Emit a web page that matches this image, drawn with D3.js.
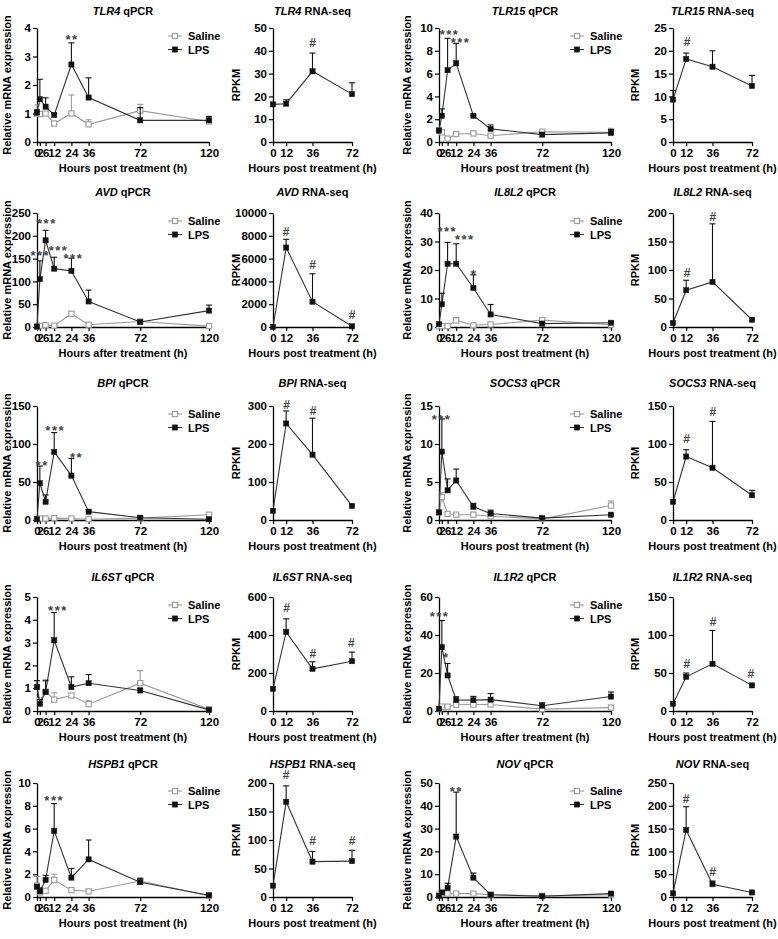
<!DOCTYPE html>
<html><head><meta charset="utf-8">
<script src="https://cdn.jsdelivr.net/npm/d3@7"></script>
<style>
body{margin:0;background:#fff;}
text{font-family:"Liberation Sans",Arial,sans-serif;font-weight:bold;}
</style></head><body>
<svg id="c" width="778" height="939"></svg>
<script>
// ---------------- DATA ----------------
const qpcrHours = [0, 2, 6, 12, 24, 36, 72, 120];
const seqHours = [0, 12, 36, 72];
const seriesNames = ["Saline", "LPS"];

// TLR4
const tlr4QpcrLps    = [1.03, 1.50, 1.24, 0.95, 2.72, 1.56, 0.76, 0.76];
const tlr4QpcrLpsErr = [0.10, 0.70, 0.31, 0.05, 0.76, 0.69, 0.45, 0.14];
const tlr4QpcrSal    = [1.00, 0.98, 1.00, 0.65, 1.00, 0.62, 1.10, 0.72];
const tlr4QpcrSalErr = [0.30, 0.02, 0.05, 0.05, 0.65, 0.16, 0.22, 0.13];
const tlr4QpcrSig    = [[24.5, 3.73, "**"]];
const tlr4Seq        = [16.5, 16.8, 31, 21];
const tlr4SeqErr     = [0.5, 1.7, 8, 5];
const tlr4SeqSig     = [[36, 43.4, "#"]];
// TLR15
const tlr15QpcrLps    = [1.0, 2.3, 6.3, 6.9, 2.3, 1.15, 0.65, 0.8];
const tlr15QpcrLpsErr = [0, 0.6, 2.8, 1.75, 0.05, 0.35, 0.15, 0.3];
const tlr15QpcrSal    = [1.05, 0.85, 0.3, 0.7, 0.75, 0.55, 0.9, 0.85];
const tlr15QpcrSalErr = [0.15, 0.15, 0.05, 0.15, 0.2, 0.05, 0.15, 0.35];
const tlr15QpcrSig    = [[7.4, 9.77, "***"], [15, 9.0, "***"]];
const tlr15Seq        = [9.3, 18.2, 16.5, 12.3];
const tlr15SeqErr     = [2, 1.3, 3.5, 2.3];
const tlr15SeqSig     = [[12.8, 22.1, "#"]];
// AVD
const avdQpcrLps    = [1, 105, 190, 128, 123, 56, 11, 36];
const avdQpcrLpsErr = [0, 40, 22, 25, 28, 25, 2, 12];
const avdQpcrSal    = [1, 3, 4, 3, 29, 5, 12, 2];
const avdQpcrSalErr = [0, 1, 1, 1, 5, 1, 1, 1];
const avdQpcrSig    = [[2.3, 165, "***"], [6.9, 235, "***"], [15, 175, "***"], [25.4, 159, "***"]];
const avdSeq        = [10, 6970, 2220, 60];
const avdSeqErr     = [0, 720, 2450, 30];
const avdSeqSig     = [[12, 8330, "#"], [36, 5450, "#"], [72, 1070, "#"]];
// IL8L2
const il8l2QpcrLps    = [1, 7.95, 22.2, 22.2, 13.7, 4.4, 1.2, 1.5];
const il8l2QpcrLpsErr = [0.2, 3.9, 7.5, 7.0, 4.6, 3.5, 0.3, 0.3];
const il8l2QpcrSal    = [0.3, 0.3, 0.3, 2.3, 0.6, 0.9, 2.4, 0.8];
const il8l2QpcrSalErr = [0.1, 0.1, 0.1, 1.0, 0.2, 0.3, 0.9, 0.2];
const il8l2QpcrSig    = [[5.8, 34.9, "***"], [18, 31.8, "***"], [24.5, 19.6, "*"]];
const il8l2Seq        = [7, 64.5, 79, 12.7];
const il8l2SeqErr     = [3, 17.5, 102, 2];
const il8l2SeqSig     = [[12.9, 96, "#"], [36.2, 193, "#"]];
// BPI
const bpiQpcrLps    = [1, 48.4, 24, 89.5, 58.4, 11, 3, 1];
const bpiQpcrLpsErr = [0, 22.6, 9, 25.5, 22.6, 2, 1, 0.5];
const bpiQpcrSal    = [1, 2, 2, 2.5, 2, 1, 2.5, 7];
const bpiQpcrSalErr = [0.5, 0.5, 0.5, 0.5, 0.5, 0.3, 0.5, 1];
const bpiQpcrSig    = [[3.6, 77, "**"], [12.7, 122, "***"], [27.6, 86.5, "**"]];
const bpiSeq        = [24, 254, 172, 37];
const bpiSeqErr     = [0, 33, 96, 3];
const bpiSeqSig     = [[12.3, 304, "#"], [36.5, 287, "#"]];
// SOCS3
const socs3QpcrLps    = [1.0, 9.0, 3.9, 5.2, 1.74, 0.85, 0.25, 0.7];
const socs3QpcrLpsErr = [0, 4.3, 1.5, 1.5, 0.45, 0.45, 0.05, 0.05];
const socs3QpcrSal    = [1.0, 3.0, 0.8, 0.7, 0.7, 0.5, 0.15, 1.9];
const socs3QpcrSalErr = [0, 0.6, 0.1, 0.1, 0.3, 0.3, 0.3, 0.6];
const socs3QpcrSig    = [[1.8, 13.7, "***"]];
const socs3Seq        = [24, 83.5, 68.7, 32.6];
const socs3SeqErr     = [0, 9, 61, 6.4];
const socs3SeqSig     = [[12.5, 106.5, "#"], [36.4, 142, "#"]];
// IL6ST
const il6stQpcrLps    = [1.05, 0.32, 0.83, 3.1, 1.05, 1.22, 0.9, 0.05];
const il6stQpcrLpsErr = [0.28, 0.18, 0.52, 1.22, 0.45, 0.38, 0.1, 0.03];
const il6stQpcrSal    = [1.05, 0.45, 0.85, 0.5, 0.68, 0.3, 1.22, 0.08];
const il6stQpcrSalErr = [0.28, 0.05, 0.45, 0.3, 0.07, 0.15, 0.55, 0.03];
const il6stQpcrSig    = [[14.6, 4.56, "***"]];
const il6stSeq        = [117, 416, 222, 262];
const il6stSeqErr     = [0, 69, 37, 48];
const il6stSeqSig     = [[12.3, 542, "#"], [36.3, 303, "#"], [71.3, 359, "#"]];
// IL1R2
const il1r2QpcrLps    = [1.2, 33.6, 18.7, 5.8, 5.7, 6, 2.8, 7.6];
const il1r2QpcrLpsErr = [0, 14, 6.3, 1.7, 2, 3.2, 1.5, 2.4];
const il1r2QpcrSal    = [1, 2.3, 2.3, 3.3, 3.4, 3.4, 1, 1.8];
const il1r2QpcrSalErr = [0, 0.3, 0.3, 0.3, 0.3, 0.3, 0.3, 0.3];
const il1r2QpcrSig    = [[0.4, 51.6, "***"], [5, 30, "*"]];
const il1r2Seq        = [9.6, 45, 62, 33.7];
const il1r2SeqErr     = [0, 5, 44, 1];
const il1r2SeqSig     = [[12.6, 62, "#"], [36.5, 118, "#"], [71, 49, "#"]];
// HSPB1
const hspb1QpcrLps    = [0.9, 0.5, 1.5, 5.8, 1.7, 3.3, 1.3, 0.15];
const hspb1QpcrLpsErr = [0.2, 0.3, 0.4, 2.4, 0.8, 1.7, 0.3, 0.05];
const hspb1QpcrSal    = [1.0, 0.4, 0.55, 1.5, 0.6, 0.5, 1.4, 0.1];
const hspb1QpcrSalErr = [0.8, 0.1, 0.1, 0.5, 0.1, 0.1, 0.3, 0.05];
const hspb1QpcrSig    = [[12, 8.8, "***"]];
const hspb1Seq        = [20, 167, 62, 63];
const hspb1SeqErr     = [0, 28, 18, 19];
const hspb1SeqSig     = [[12, 215, "#"], [36, 98, "#"], [72, 98, "#"]];
// NOV
const novQpcrLps    = [0.5, 2, 4, 26.5, 8.5, 1, 0.3, 1.5];
const novQpcrLpsErr = [0, 0.5, 2, 19.5, 2, 0.3, 0.1, 0.3];
const novQpcrSal    = [1, 1.5, 1.5, 1.5, 1.5, 1, 0.5, 1];
const novQpcrSalErr = [0, 0.3, 0.5, 0.3, 0.3, 0.3, 0.1, 0.3];
const novQpcrSig    = [[12, 48, "**"]];
const novSeq        = [8, 147, 28, 10];
const novSeqErr     = [0, 51, 7, 1];
const novSeqSig     = [[12, 215, "#"], [36, 55, "#"]];

// axis maxima / steps
const qpcrYMax  = {TLR4:4, TLR15:10, AVD:250, IL8L2:40, BPI:150, SOCS3:15, IL6ST:5, IL1R2:60, HSPB1:10, NOV:50};
const qpcrYStep = {TLR4:1, TLR15:2, AVD:50, IL8L2:10, BPI:50, SOCS3:5, IL6ST:1, IL1R2:20, HSPB1:2, NOV:10};
const seqYMax   = {TLR4:50, TLR15:25, AVD:10000, IL8L2:200, BPI:300, SOCS3:150, IL6ST:600, IL1R2:150, HSPB1:200, NOV:250};
const seqYStep  = {TLR4:10, TLR15:5, AVD:2000, IL8L2:50, BPI:100, SOCS3:50, IL6ST:200, IL1R2:50, HSPB1:50, NOV:50};

const xTitlePost = "Hours post treatment (h)";
const xTitleAfter = "Hours after treatment (h)";

// ---------------- PANEL TABLE ----------------
const genes = [
  {gene:"TLR4",  row:0, side:0, xt:xTitlePost,  q:[tlr4QpcrSal, tlr4QpcrSalErr, tlr4QpcrLps, tlr4QpcrLpsErr, tlr4QpcrSig], s:[tlr4Seq, tlr4SeqErr, tlr4SeqSig]},
  {gene:"TLR15", row:0, side:1, xt:xTitlePost,  q:[tlr15QpcrSal, tlr15QpcrSalErr, tlr15QpcrLps, tlr15QpcrLpsErr, tlr15QpcrSig], s:[tlr15Seq, tlr15SeqErr, tlr15SeqSig]},
  {gene:"AVD",   row:1, side:0, xt:xTitleAfter, q:[avdQpcrSal, avdQpcrSalErr, avdQpcrLps, avdQpcrLpsErr, avdQpcrSig], s:[avdSeq, avdSeqErr, avdSeqSig]},
  {gene:"IL8L2", row:1, side:1, xt:xTitlePost,  q:[il8l2QpcrSal, il8l2QpcrSalErr, il8l2QpcrLps, il8l2QpcrLpsErr, il8l2QpcrSig], s:[il8l2Seq, il8l2SeqErr, il8l2SeqSig]},
  {gene:"BPI",   row:2, side:0, xt:xTitlePost,  q:[bpiQpcrSal, bpiQpcrSalErr, bpiQpcrLps, bpiQpcrLpsErr, bpiQpcrSig], s:[bpiSeq, bpiSeqErr, bpiSeqSig]},
  {gene:"SOCS3", row:2, side:1, xt:xTitlePost,  q:[socs3QpcrSal, socs3QpcrSalErr, socs3QpcrLps, socs3QpcrLpsErr, socs3QpcrSig], s:[socs3Seq, socs3SeqErr, socs3SeqSig]},
  {gene:"IL6ST", row:3, side:0, xt:xTitlePost,  q:[il6stQpcrSal, il6stQpcrSalErr, il6stQpcrLps, il6stQpcrLpsErr, il6stQpcrSig], s:[il6stSeq, il6stSeqErr, il6stSeqSig]},
  {gene:"IL1R2", row:3, side:1, xt:xTitleAfter, q:[il1r2QpcrSal, il1r2QpcrSalErr, il1r2QpcrLps, il1r2QpcrLpsErr, il1r2QpcrSig], s:[il1r2Seq, il1r2SeqErr, il1r2SeqSig]},
  {gene:"HSPB1", row:4, side:0, xt:xTitlePost,  q:[hspb1QpcrSal, hspb1QpcrSalErr, hspb1QpcrLps, hspb1QpcrLpsErr, hspb1QpcrSig], s:[hspb1Seq, hspb1SeqErr, hspb1SeqSig]},
  {gene:"NOV",   row:4, side:1, xt:xTitleAfter, q:[novQpcrSal, novQpcrSalErr, novQpcrLps, novQpcrLpsErr, novQpcrSig], s:[novSeq, novSeqErr, novSeqSig]}
];

// ---------------- LAYOUT ----------------
const rowTops = [28, 213, 406, 597, 783];
const titleY = [11, 192, 383, 577, 764];
const plotH = 114;
const qCols = [{x0:37, x1:209, yt:7}, {x0:439, x1:611, yt:407}];
const sCols = [{x0:273, x1:352, yt:236}, {x0:673, x1:752, yt:635}];
const COL = {lps:"#111", lpsLine:"#333", sal:"#9a9a9a", sig:"#444"};

const svg = d3.select("#c");

function styleAxis(a) {
  a.select(".domain").attr("stroke", "#000").attr("stroke-width", 1.3);
  a.selectAll(".tick line").attr("stroke", "#000").attr("stroke-width", 1.2);
  a.selectAll(".tick text").attr("fill", "#000").style("font-size", "11.5px")
    .style("font-family", '"Liberation Sans",Arial,sans-serif').style("font-weight", "bold");
}

function drawSeries(g, x, y, hours, vals, errs, color, lineColor, open) {
  g.append("path").datum(hours.map((h, i) => [h, vals[i]]))
    .attr("fill", "none").attr("stroke", lineColor).attr("stroke-width", 1.1)
    .attr("d", d3.line().x(d => x(d[0])).y(d => y(d[1])));
  const eb = g.append("g").attr("stroke", color).attr("stroke-width", 1.1);
  hours.forEach((h, i) => {
    if (!errs[i]) return;
    const cx = x(h), y0 = y(vals[i]), y1 = y(vals[i] + errs[i]);
    eb.append("line").attr("x1", cx).attr("x2", cx).attr("y1", y0).attr("y2", y1);
    eb.append("line").attr("x1", cx - 3).attr("x2", cx + 3).attr("y1", y1).attr("y2", y1);
  });
  g.append("g").selectAll("rect").data(hours.map((h, i) => [h, vals[i]])).join("rect")
    .attr("x", d => x(d[0]) - 2.6).attr("y", d => y(d[1]) - 2.6)
    .attr("width", 5.2).attr("height", 5.2)
    .attr("fill", open ? "#fff" : color).attr("stroke", color).attr("stroke-width", open ? 1.1 : 0.5);
}

function drawSig(g, x, y, sig) {
  sig.forEach(([t, v, lab]) => {
    const fs = lab === "#" ? 12 : 13;
    const off = lab === "#" ? 0.36 * fs : 0.62 * fs;
    g.append("text").attr("x", x(t)).attr("y", y(v) + off)
      .attr("text-anchor", "middle").attr("fill", COL.sig)
      .style("font-size", fs + "px").style("letter-spacing", lab === "#" ? "0px" : "1.5px")
      .text(lab);
  });
}

function frame(g, x, y, hours, yMax, yStep, col, top, bottom, tRow, gene, kind, xTitle, yTitle) {
  const xa = g.append("g").attr("transform", `translate(0,${bottom})`)
    .call(d3.axisBottom(x).tickValues(hours).tickSize(4).tickSizeOuter(0).tickPadding(3));
  styleAxis(xa);
  const ya = g.append("g").attr("transform", `translate(${col.x0},0)`)
    .call(d3.axisLeft(y).tickValues(d3.range(0, yMax + yStep / 2, yStep)).tickSize(4).tickSizeOuter(0).tickPadding(2).tickFormat(d3.format("d")));
  styleAxis(ya);
  const cx = (col.x0 + col.x1) / 2;
  const t = g.append("text").attr("x", cx).attr("y", titleY[tRow] + 4).attr("text-anchor", "middle")
    .style("font-size", "11px").attr("fill", "#000");
  t.append("tspan").style("font-style", "italic").text(gene);
  t.append("tspan").text(" " + kind);
  g.append("text").attr("x", cx).attr("y", bottom + 30).attr("text-anchor", "middle")
    .style("font-size", "11px").attr("fill", "#000").text(xTitle);
  g.append("text").attr("transform", `translate(${col.yt + 4},${(top + bottom) / 2}) rotate(-90)`)
    .attr("text-anchor", "middle").style("font-size", "11px").attr("fill", "#000").text(yTitle);
}

genes.forEach(p => {
  const top = rowTops[p.row], bottom = top + plotH;
  // qPCR panel
  {
    const col = qCols[p.side];
    const x = d3.scaleLinear().domain([0, 120]).range([col.x0, col.x1]);
    const y = d3.scaleLinear().domain([0, qpcrYMax[p.gene]]).range([bottom, top]);
    const g = svg.append("g");
    frame(g, x, y, qpcrHours, qpcrYMax[p.gene], qpcrYStep[p.gene], col, top, bottom, p.row, p.gene, "qPCR", p.xt, "Relative mRNA expression");
    const [sal, salErr, lps, lpsErr, sig] = p.q;
    drawSeries(g, x, y, qpcrHours, sal, salErr, COL.sal, COL.sal, true);
    drawSeries(g, x, y, qpcrHours, lps, lpsErr, COL.lps, COL.lpsLine, false);
    drawSig(g, x, y, sig);
    // legend
    const mx = col.x1 - 34;
    seriesNames.forEach((name, i) => {
      const ly = top + 8 + i * 13.5;
      const c = i === 0 ? COL.sal : COL.lps;
      g.append("line").attr("x1", mx - 7).attr("x2", mx + 7).attr("y1", ly).attr("y2", ly)
        .attr("stroke", i === 0 ? COL.sal : COL.lpsLine).attr("stroke-width", 1.1);
      g.append("rect").attr("x", mx - 2.6).attr("y", ly - 2.6).attr("width", 5.2).attr("height", 5.2)
        .attr("fill", i === 0 ? "#fff" : c).attr("stroke", c).attr("stroke-width", i === 0 ? 1.1 : 0.5);
      g.append("text").attr("x", mx + 13).attr("y", ly + 4).style("font-size", "11px").attr("fill", "#000").text(name);
    });
  }
  // RNA-seq panel
  {
    const col = sCols[p.side];
    const x = d3.scaleLinear().domain([0, 72]).range([col.x0, col.x1]);
    const y = d3.scaleLinear().domain([0, seqYMax[p.gene]]).range([bottom, top]);
    const g = svg.append("g");
    frame(g, x, y, seqHours, seqYMax[p.gene], seqYStep[p.gene], col, top, bottom, p.row, p.gene, "RNA-seq", xTitlePost, "RPKM");
    const [vals, errs, sig] = p.s;
    drawSeries(g, x, y, seqHours, vals, errs, COL.lps, COL.lpsLine, false);
    drawSig(g, x, y, sig);
  }
});
</script></body></html>
